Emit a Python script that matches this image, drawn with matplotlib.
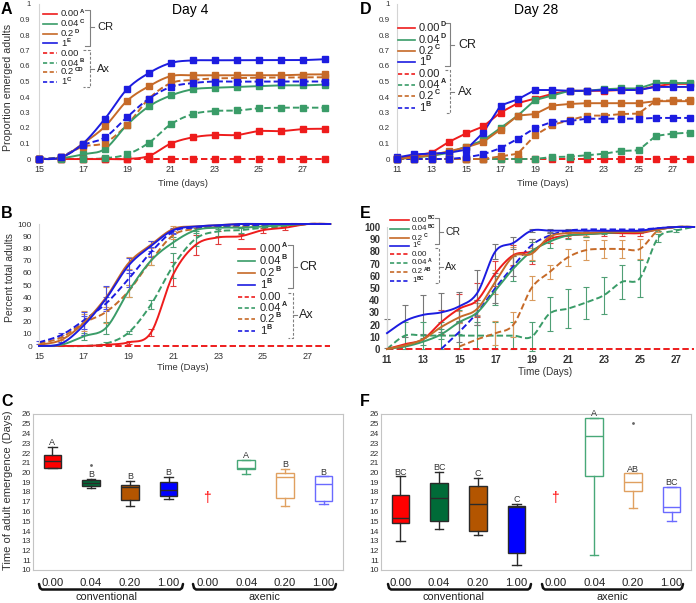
import matplotlib
matplotlib.use('Agg')
import matplotlib.pyplot as plt
import numpy as np
from matplotlib.lines import Line2D

plt.rcParams['font.family'] = ['Liberation Sans', 'DejaVu Sans']

W, H = 696, 603

# ---------------- data ----------------
conc = ['0.00', '0.04', '0.2', '1']

# Panel A - Day 4, proportion emerged adults (days 15-28)
days_a = np.arange(15, 29)
a_cr_000 = [0, 0, 0, 0, 0, 0.02, 0.10, 0.14, 0.155, 0.155, 0.18, 0.18, 0.193, 0.195]
a_cr_004 = [0, 0.005, 0.03, 0.065, 0.22, 0.34, 0.41, 0.45, 0.46, 0.465, 0.47, 0.475, 0.475, 0.48]
a_cr_02 = [0, 0.01, 0.10, 0.21, 0.375, 0.47, 0.535, 0.54, 0.54, 0.54, 0.54, 0.54, 0.545, 0.546]
a_cr_1 = [0, 0.01, 0.10, 0.26, 0.45, 0.555, 0.62, 0.636, 0.637, 0.637, 0.638, 0.638, 0.638, 0.644]
a_ax_000 = [0] * 14
a_ax_004 = [0, 0, 0, 0.005, 0.03, 0.105, 0.225, 0.29, 0.31, 0.313, 0.327, 0.331, 0.331, 0.331]
a_ax_02 = [0, 0.015, 0.08, 0.105, 0.22, 0.39, 0.49, 0.51, 0.52, 0.522, 0.525, 0.525, 0.527, 0.527]
a_ax_1 = [0, 0.015, 0.09, 0.14, 0.27, 0.39, 0.465, 0.49, 0.5, 0.499, 0.5, 0.5, 0.5, 0.5]
a_sup = ['A', 'C', 'D', 'E', '', 'B', 'CD', 'C']

# Panel D - Day 28, proportion emerged adults (days 11-28)
days_d = np.arange(11, 29)
d_cr_000 = [0.005, 0.02, 0.04, 0.11, 0.165, 0.21, 0.30, 0.36, 0.39, 0.42, 0.44, 0.44, 0.44, 0.445, 0.445, 0.47, 0.485, 0.485]
d_cr_004 = [0, 0.01, 0.02, 0.04, 0.08, 0.12, 0.20, 0.28, 0.38, 0.41, 0.44, 0.44, 0.45, 0.455, 0.455, 0.49, 0.49, 0.49]
d_cr_02 = [0, 0.01, 0.025, 0.05, 0.075, 0.11, 0.19, 0.28, 0.29, 0.345, 0.355, 0.36, 0.36, 0.36, 0.36, 0.373, 0.373, 0.373]
d_cr_1 = [0.01, 0.03, 0.035, 0.04, 0.06, 0.17, 0.345, 0.385, 0.445, 0.445, 0.44, 0.44, 0.445, 0.445, 0.445, 0.465, 0.465, 0.465]
d_ax_000 = [0] * 18
d_ax_004 = [0, 0, 0, 0, 0, 0, 0, 0, 0, 0.013, 0.015, 0.024, 0.034, 0.052, 0.056, 0.149, 0.164, 0.17]
d_ax_02 = [0, 0, 0, 0, 0, 0, 0.017, 0.034, 0.153, 0.22, 0.25, 0.28, 0.28, 0.29, 0.293, 0.375, 0.378, 0.38]
d_ax_1 = [0, 0, 0, 0, 0.01, 0.03, 0.07, 0.13, 0.2, 0.24, 0.245, 0.26, 0.26, 0.26, 0.26, 0.265, 0.265, 0.265]
d_sup = ['D', 'D', 'C', 'D', '', 'A', 'C', 'B']

# Panel B - Day 4, percent total adults (days 15-28) with error half-widths
days_b = np.arange(15, 29)
b_cr_000 = [0, 0, 0, 1, 3, 11, 59, 83, 89, 90, 95, 97, 100, 100]
b_cr_004 = [0, 1, 8, 15, 45, 70, 85, 95, 97, 97, 98, 99, 100, 100]
b_cr_02 = [1, 5, 19, 40, 68, 83, 96, 98, 99, 100, 100, 100, 100, 100]
b_cr_1 = [0, 2, 17, 39, 66, 82, 95, 98, 99, 100, 100, 100, 100, 100]
b_ax_000 = [0] * 14
b_ax_004 = [0, 0, 0, 2, 11, 34, 66, 88, 94, 95, 97, 98, 100, 100]
b_ax_02 = [2, 7, 19, 28, 45, 70, 91, 96, 98, 98, 99, 99, 100, 100]
b_ax_1 = [3, 9, 21, 35, 55, 77, 94, 97, 98, 99, 99, 100, 100, 100]
b_cr_000_err = [0, 0, 0, 0, 1, 3, 10, 8, 5, 2, 2, 2, 0, 0]
b_cr_004_err = [0, 0, 3, 5, 5, 4, 4, 2, 1, 0, 0, 0, 0, 0]
b_cr_02_err = [0, 2, 10, 8, 5, 3, 2, 0, 0, 0, 0, 0, 0, 0]
b_cr_1_err = [0, 1, 8, 10, 6, 4, 2, 0, 0, 0, 0, 0, 0, 0]
b_ax_000_err = [0] * 14
b_ax_004_err = [0, 0, 0, 1, 1, 4, 10, 6, 4, 2, 0, 0, 0, 0]
b_ax_02_err = [0, 2, 7, 9, 5, 4, 3, 0, 0, 0, 0, 0, 0, 0]
b_ax_1_err = [1, 2, 7, 5, 7, 4, 2, 0, 0, 0, 0, 0, 0, 0]
b_sup = ['A', 'B', 'B', 'B', '', 'A', 'B', 'B']

# Panel E - Day 28, percent total adults (days 11-28)
nan = np.nan
days_e = np.arange(11, 29)
e_cr_000 = [0, 4, 8, 22, 33, 40, 62, 77, 80, 90, 93, 94, 95, 95, 95, 98, 100, 100]
e_cr_004 = [0, 2, 6, 12, 22, 30, 48, 66, 80, 88, 93, 94, 95, 96, 96, 98, 100, 100]
e_cr_02 = [0, 3, 8, 18, 26, 33, 55, 76, 78, 92, 95, 95, 96, 96, 96, 98, 100, 100]
e_cr_1 = [13, 23, 28, 30, 35, 46, 80, 87, 97, 97, 97, 97, 97, 97, 97, 99, 100, 100]
e_ax_000 = [0] * 18
e_ax_004 = [0, 11, 11, 11, 11, 11, 11, 11, 10, 29, 33, 38, 44, 55, 58, 91, 97, 100]
e_ax_02 = [nan, nan, nan, nan, 2, 8, 13, 20, 50, 63, 75, 81, 82, 82, 82, 97, 100, 100]
e_ax_1 = [nan, nan, nan, 0, 14, 30, 50, 68, 85, 93, 97, 98, 98, 98, 98, 99, 100, 100]
e_cr_000_err = [0, 0, 0, 10, 12, 14, 10, 8, 10, 3, 2, 2, 2, 2, 2, 1, 0, 0]
e_cr_004_err = [0, 0, 3, 4, 10, 10, 12, 10, 8, 5, 3, 2, 1, 1, 1, 1, 0, 0]
e_cr_02_err = [0, 0, 0, 0, 5, 5, 10, 8, 5, 3, 2, 2, 1, 1, 1, 0, 0, 0]
e_cr_1_err = [12, 13, 16, 16, 12, 19, 6, 5, 1, 1, 0, 0, 0, 0, 0, 0, 0, 0]
e_ax_000_err = [0] * 18
e_ax_004_err = [0, 11, 11, 11, 11, 11, 11, 11, 12, 14, 16, 13, 15, 14, 15, 3, 1, 0]
e_ax_02_err = [0, 0, 0, 0, 0, 0, 10, 10, 10, 6, 7, 8, 7, 7, 8, 1, 0, 0]
e_ax_1_err = [0, 0, 0, 0, 8, 10, 12, 8, 5, 2, 1, 0, 0, 0, 0, 0, 0, 0]
e_sup = ['BC', 'BC', 'C', 'C', '', 'A', 'AB', 'BC']

# Panels C / F - time of adult emergence, box stats (position 5 = no emergence)
box_labels = ['0.00', '0.04', '0.20', '1.00', '0.00', '0.04', '0.20', '1.00']
c_whislo = [20.5, 18.4, 16.6, 17.3, nan, 19.8, 16.6, 16.8]
c_q1 = [20.5, 18.6, 17.2, 17.6, nan, 20.4, 17.4, 17.1]
c_med = [21.2, 18.9, 18.5, 18.2, nan, 20.5, 19.5, 18.8]
c_q3 = [21.8, 19.2, 18.7, 19.0, nan, 21.3, 19.9, 19.6]
c_whishi = [22.6, 19.3, 19.1, 19.5, nan, 21.3, 20.4, 19.6]
c_fliers = [[], [20.8], [], [], [], [], [], []]
c_letters = ['A', 'B', 'B', 'B', '', 'A', 'B', 'B']

f_whislo = [13.0, 14.2, 13.6, 10.5, nan, 11.5, 16.4, 15.0]
f_q1 = [14.8, 15.0, 14.0, 11.7, nan, 19.6, 18.1, 15.9]
f_med = [15.3, 17.4, 16.8, 16.5, nan, 23.7, 19.0, 16.5]
f_q3 = [17.7, 18.9, 18.6, 16.6, nan, 25.6, 19.9, 18.5]
f_whishi = [19.6, 20.1, 19.4, 16.8, nan, 25.6, 19.9, 18.5]
f_fliers = [[], [], [], [], [], [], [25.1], []]
f_letters = ['BC', 'BC', 'C', 'C', '', 'A', 'AB', 'BC']

# ---------------- styling ----------------
RED, GREEN, ORANGE, BLUE = '#ee1c1c', '#3a9c68', '#c66a28', '#1c1ce0'
line_colors = [RED, GREEN, ORANGE, BLUE]
err_colors_b = ['#e03a3a', '#4f9f75', '#d99a5c', '#5050e0']
err_colors_e = ['#e04040', '#4f9f75', '#d99a5c', '#777777']
box_fill = ['#ff0000', '#006b38', '#b35500', '#0000ff']
box_edge_ax = ['#ff0000', '#48a878', '#e0a060', '#6a6aff']
DASH = (3.3, 1.6)
TICK_C = '#333333'

fig = plt.figure(figsize=(W / 100, H / 100), dpi=100)
renderer = fig.canvas.get_renderer()


def fx(x):
    return x / W


def fy(y):
    return 1 - y / H


def add_ax(l, t, r, b):
    return fig.add_axes([fx(l), fy(b), (r - l) / W, (b - t) / H])


def smooth(x, y, n=16):
    x = np.asarray(x, float)
    y = np.asarray(y, float)
    m = ~np.isnan(y)
    x, y = x[m], y[m]
    P = np.column_stack([x, y])
    P = np.vstack([P[0], P, P[-1]])
    t = np.linspace(0, 1, n, endpoint=False)[:, None]
    out = []
    for i in range(1, len(P) - 2):
        p0, p1, p2, p3 = P[i - 1], P[i], P[i + 1], P[i + 2]
        out.append(0.5 * (2 * p1 + (-p0 + p2) * t + (2 * p0 - 5 * p1 + 4 * p2 - p3) * t ** 2
                          + (-p0 + 3 * p1 - 3 * p2 + p3) * t ** 3))
    out.append(P[-2][None])
    out = np.vstack(out)
    return out[:, 0], out[:, 1]


def style_line_ax(ax, xlim, ylim, yticks, xticks, yfmt, yfs, xfs, ypad, xpad):
    ax.set_xlim(*xlim)
    ax.set_ylim(*ylim)
    for s in ['top', 'right', 'bottom']:
        ax.spines[s].set_visible(False)
    ax.spines['left'].set_color('#d4d4d4')
    ax.spines['left'].set_linewidth(0.8)
    ax.set_yticks(yticks)
    ax.set_yticklabels([yfmt(v) for v in yticks])
    ax.set_xticks(xticks)
    ax.tick_params(axis='y', length=0, labelsize=yfs, pad=ypad, labelcolor=TICK_C)
    ax.tick_params(axis='x', length=0, labelsize=xfs, pad=xpad, labelcolor=TICK_C)


def draw_legend(x0, x1, xt, ys, sups, fs, lw=1.2):
    styles = ['-'] * 4 + ['--'] * 4
    for i, (y, sup) in enumerate(zip(ys, sups)):
        ln = Line2D([fx(x0), fx(x1)], [fy(y), fy(y)], color=line_colors[i % 4], lw=lw,
                    ls=styles[i], transform=fig.transFigure)
        if styles[i] == '--':
            ln.set_dashes((2.5, 1.5))
        fig.add_artist(ln)
        t = fig.text(fx(xt), fy(y), conc[i % 4], fontsize=fs, va='center', ha='left',
                     color='#222222')
        if sup:
            bb = t.get_window_extent(renderer)
            raise_px = 0.3 * fs * 100 / 72
            fig.text(bb.x1 / W + 0.4 / W, fy(y - raise_px), sup, fontsize=fs * 0.64,
                     fontweight='bold', va='center', ha='left', color='#222222')


def bracket(x, y0, y1, stub, ym, label, xt, fs, ls='-'):
    ln = Line2D([fx(x - stub), fx(x), fx(x), fx(x - stub)], [fy(y0), fy(y0), fy(y1), fy(y1)],
                color='#808080', lw=0.8, ls=ls, transform=fig.transFigure)
    if ls == '--':
        ln.set_dashes((2.5, 1.5))
    fig.add_artist(ln)
    fig.add_artist(Line2D([fx(x), fx(x + 4)], [fy(ym), fy(ym)], color='#808080', lw=0.8,
                          transform=fig.transFigure))
    fig.text(fx(xt), fy(ym), label, fontsize=fs, va='center', ha='left', color='#222222')


def plot_series(ax, days, series, smooth_line, markers, lw=1.4):
    for i, vals in enumerate(series):
        c = line_colors[i % 4]
        dashed = i >= 4
        if smooth_line:
            xs, ys = smooth(days, vals)
        else:
            xs, ys = np.asarray(days, float), np.asarray(vals, float)
        ln, = ax.plot(xs, ys, color=c, lw=lw, ls='--' if dashed else '-', clip_on=False,
                      zorder=3 if not dashed else 2)
        if dashed:
            ln.set_dashes(DASH)
        if markers:
            ax.plot(days, vals, ls='none', marker='s', ms=4.2, color=c, clip_on=False, zorder=4)


def plot_errors(ax, days, series, errs, colors):
    for i, (vals, err) in enumerate(zip(series, errs)):
        d = np.asarray(days, float)
        v = np.asarray(vals, float)
        e = np.asarray(err, float)
        m = e > 0
        if m.any():
            ax.errorbar(d[m], v[m], yerr=e[m], fmt='none', ecolor=colors[i % 4], elinewidth=0.8,
                        capsize=2.2, capthick=0.8, zorder=1, clip_on=False)


# ---------------- Panel A ----------------
axA = add_ax(39, 4, 329, 159)
plot_series(axA, days_a, [a_cr_000, a_cr_004, a_cr_02, a_cr_1, a_ax_000, a_ax_004, a_ax_02, a_ax_1],
            True, True)
style_line_ax(axA, (15, 28.18), (0, 1), np.round(np.arange(0, 1.01, 0.1), 1), range(15, 28, 2),
              lambda v: '0' if v == 0 else ('1' if v == 1 else f'{v:g}'), 5.5, 6.5, 6, 4)
draw_legend(43, 57, 61, [14, 24, 34, 43, 53, 63, 72, 82], a_sup, 6.8)
bracket(90, 10, 46, 5, 27, 'CR', 97, 8)
bracket(90, 50, 87, 7, 69, 'Ax', 97, 8, ls='--')

# ---------------- Panel D ----------------
axD = add_ax(397, 4, 692, 159)
plot_series(axD, days_d, [d_cr_000, d_cr_004, d_cr_02, d_cr_1, d_ax_000, d_ax_004, d_ax_02, d_ax_1],
            False, True)
style_line_ax(axD, (11, 28.1), (0, 1), np.round(np.arange(0, 1.01, 0.1), 1), range(11, 28, 2),
              lambda v: '0' if v == 0 else ('1' if v == 1 else f'{v:g}'), 5.8, 6.5, 5, 4)
draw_legend(398, 415, 419, [28, 40, 51, 62, 74, 85, 96, 108], d_sup, 8)
bracket(450, 23, 66, 5, 45, 'CR', 458, 9)
bracket(450, 70, 113, 5, 92, 'Ax', 458, 9, ls='--')

# ---------------- Panel B ----------------
axB = add_ax(39, 224, 332, 346)
b_series = [b_cr_000, b_cr_004, b_cr_02, b_cr_1, b_ax_000, b_ax_004, b_ax_02, b_ax_1]
b_errs = [b_cr_000_err, b_cr_004_err, b_cr_02_err, b_cr_1_err,
          b_ax_000_err, b_ax_004_err, b_ax_02_err, b_ax_1_err]
plot_errors(axB, days_b, b_series, b_errs, err_colors_b)
plot_series(axB, days_b, b_series, True, False)
style_line_ax(axB, (15, 28.08), (0, 100), list(range(0, 101, 10)), range(15, 28, 2),
              lambda v: f'{v:d}', 6, 6.5, 5, 4)
draw_legend(238, 255, 260, [249, 261, 273, 285, 297, 308, 319, 331], b_sup, 8)
bracket(293, 245, 288, 5, 267, 'CR', 299, 9)
bracket(293, 293, 338, 5, 315, 'Ax', 299, 9, ls='--')

# ---------------- Panel E ----------------
axE = add_ax(387, 227, 695, 349)
e_series = [e_cr_000, e_cr_004, e_cr_02, e_cr_1, e_ax_000, e_ax_004, e_ax_02, e_ax_1]
e_errs = [e_cr_000_err, e_cr_004_err, e_cr_02_err, e_cr_1_err,
          e_ax_000_err, e_ax_004_err, e_ax_02_err, e_ax_1_err]
plot_errors(axE, days_e, e_series, e_errs, err_colors_e)
plot_series(axE, days_e, e_series, True, False)
style_line_ax(axE, (11, 28.05), (0, 100), list(range(0, 101, 10)), range(11, 28, 2),
              lambda v: f'{v:d}', 7, 7, 5, 4)
for lab in axE.get_yticklabels() + axE.get_xticklabels():
    lab.set_fontweight('bold')
draw_legend(390, 409, 412, [220, 229, 238, 246, 254, 263, 272, 281], e_sup, 5.8)
bracket(439, 218, 244, 4, 232, 'CR', 445, 7.5)
bracket(439, 248, 283, 4, 267, 'Ax', 445, 7.5, ls='--')


# ---------------- Panels C / F ----------------
def box_panel(ax, whislo, q1, med, q3, whishi, fliers, letters):
    positions = np.arange(1, 9)
    stats, pos, kinds = [], [], []
    for i in range(8):
        if np.isnan(med[i]):
            continue
        stats.append(dict(whislo=whislo[i], q1=q1[i], med=med[i], q3=q3[i], whishi=whishi[i],
                          fliers=fliers[i]))
        pos.append(positions[i])
        kinds.append(i)
    res = ax.bxp(stats, positions=pos, widths=0.45, patch_artist=True, showfliers=True,
                 flierprops=dict(marker='o', ms=1.0, color='#666666', markeredgecolor='#666666',
                                 markerfacecolor='#666666'))
    for j, i in enumerate(kinds):
        if i < 4:
            fc, ec = box_fill[i], '#2a2a2a'
        else:
            fc, ec = 'white', box_edge_ax[i % 4]
        res['boxes'][j].set_facecolor(fc)
        res['boxes'][j].set_edgecolor(ec)
        res['boxes'][j].set_linewidth(1.0)
        res['medians'][j].set_color(ec)
        res['medians'][j].set_linewidth(1.0)
        for k in (2 * j, 2 * j + 1):
            res['whiskers'][k].set_color(ec)
            res['caps'][k].set_color(ec)
            res['whiskers'][k].set_linewidth(1.0)
            res['caps'][k].set_linewidth(1.0)
        ax.text(positions[i], whishi[i] + 0.45, letters[i], ha='center', va='center',
                fontsize=6.5, color='#333333')
    ax.text(5, 17.4, '\u2020', color='red', ha='center', va='center', fontsize=10)
    ax.set_xlim(0.5, 8.5)
    ax.set_ylim(10, 26)
    ax.set_yticks(range(10, 27))
    ax.set_xticks(positions)
    ax.set_xticklabels(box_labels)
    ax.tick_params(axis='y', length=0, labelsize=6, pad=1.5, labelcolor=TICK_C)
    ax.tick_params(axis='x', length=0, labelsize=8.2, pad=6, labelcolor='#222222')
    for s in ax.spines.values():
        s.set_color('#c4c4c4')
        s.set_linewidth(0.8)


axC = add_ax(33, 414, 343, 570)
box_panel(axC, c_whislo, c_q1, c_med, c_q3, c_whishi, c_fliers, c_letters)
axF = add_ax(381, 414, 691, 570)
box_panel(axF, f_whislo, f_q1, f_med, f_q3, f_whishi, f_fliers, f_letters)


def group_bracket(x0, x1, label, xt):
    fig.add_artist(Line2D([fx(x0), fx(x0 + 1), fx(x0 + 3), fx(x1 - 3), fx(x1 - 1), fx(x1)],
                          [fy(584), fy(588), fy(589.5), fy(589.5), fy(588), fy(584)],
                          color='#111111', lw=1.8, transform=fig.transFigure,
                          solid_capstyle='round', solid_joinstyle='round'))
    fig.text(fx(xt), fy(597), label, ha='center', va='center', fontsize=7.8, color='#222222')


group_bracket(39, 183, 'conventional', 106)
group_bracket(193, 336, 'axenic', 264)
group_bracket(388, 531, 'conventional', 454)
group_bracket(542, 683, 'axenic', 612)

# ---------------- labels ----------------
fig.text(fx(1), fy(9), 'A', fontsize=11.5, fontweight='bold', va='center', ha='left')
fig.text(fx(1), fy(214), 'B', fontsize=11.5, fontweight='bold', va='center', ha='left')
fig.text(fx(1), fy(401), 'C', fontsize=11.5, fontweight='bold', va='center', ha='left')
fig.text(fx(360), fy(9), 'D', fontsize=11.5, fontweight='bold', va='center', ha='left')
fig.text(fx(360), fy(213), 'E', fontsize=11.5, fontweight='bold', va='center', ha='left')
fig.text(fx(360), fy(402), 'F', fontsize=11.5, fontweight='bold', va='center', ha='left')

fig.text(fx(190), fy(10), 'Day 4', fontsize=10, ha='center', va='center')
fig.text(fx(536), fy(10), 'Day 28', fontsize=10, ha='center', va='center')

fig.text(fx(8), fy(87), 'Proportion emerged adults', rotation=90, fontsize=7.7, ha='center',
         va='center', color='#333333')
fig.text(fx(10), fy(278), 'Percent total adults', rotation=90, fontsize=7.5, ha='center',
         va='center', color='#333333')
fig.text(fx(8), fy(490), 'Time of adult emergence (Days)', rotation=90, fontsize=8, ha='center',
         va='center', color='#333333')

fig.text(fx(183), fy(183), 'Time (days)', fontsize=6.8, ha='center', va='center', color='#333333')
fig.text(fx(543), fy(183), 'Time (Days)', fontsize=6.8, ha='center', va='center', color='#333333')
fig.text(fx(183), fy(368), 'Time (Days)', fontsize=6.8, ha='center', va='center', color='#333333')
fig.text(fx(545), fy(372), 'Time (Days)', fontsize=7.2, ha='center', va='center', color='#333333')

fig.savefig('out.png', dpi=100)
